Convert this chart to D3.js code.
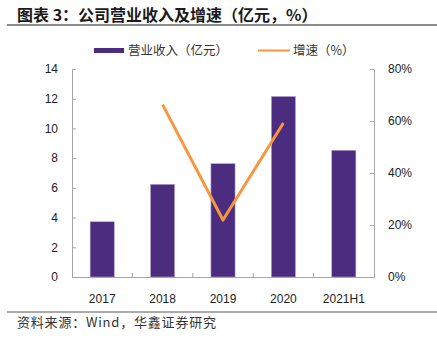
<!DOCTYPE html>
<html>
<head>
<meta charset="utf-8">
<script src="https://cdn.jsdelivr.net/npm/d3@7"></script>
<style>
  html, body { margin: 0; padding: 0; background: #fff; }
  svg { display: block; }
  .axis text { font-family: "Liberation Sans", Arial, sans-serif; font-size: 12px; fill: #222; }
  .axis line, .axis path { stroke: #a6a6a6; }
</style>
</head>
<body>
<svg id="chart" width="437" height="342"></svg>
<script>
// revenue (100m yuan) and growth rate
const categories = ['2017', '2018', '2019', '2020', '2021H1'];
const revenue = [3.72, 6.24, 7.63, 12.15, 8.53];
const growth = [null, 0.663, 0.219, 0.592, null];
const leftTicks = [0, 2, 4, 6, 8, 10, 12, 14];
const rightTicks = [0, 0.2, 0.4, 0.6, 0.8];

const barColor = '#4b2c7f';
const lineColor = '#f7963f';

const margin = {top: 69, right: 63, bottom: 65, left: 72};
const width = 437 - margin.left - margin.right;
const height = 342 - margin.top - margin.bottom;

const svg = d3.select('#chart');

// heading and rules
svg.append('text')
  .attr('x', 17).attr('y', 21)
  .style('font-family', '"Noto Sans CJK SC", sans-serif')
  .style('font-weight', 'bold')
  .style('font-size', '16px')
  .attr('fill', '#1a1a1a')
  .text('图表 3：公司营业收入及增速（亿元，%）');

svg.append('line')
  .attr('x1', 7).attr('x2', 437).attr('y1', 25).attr('y2', 25)
  .attr('stroke', '#8c8c8c').attr('stroke-width', 2);

svg.append('line')
  .attr('x1', 7).attr('x2', 437).attr('y1', 312).attr('y2', 312)
  .attr('stroke', '#8c8c8c').attr('stroke-width', 1.5);

svg.append('text')
  .attr('x', 17).attr('y', 327)
  .style('font-family', '"Noto Sans CJK SC", sans-serif')
  .style('font-size', '13px')
  .style('letter-spacing', '0.8px')
  .attr('fill', '#333')
  .text('资料来源：Wind，华鑫证券研究');

// legend
const legend = svg.append('g')
  .style('font-family', '"Noto Sans CJK SC", sans-serif')
  .style('font-size', '12.5px');

legend.append('rect')
  .attr('x', 94).attr('y', 48).attr('width', 30).attr('height', 5)
  .attr('fill', barColor);
legend.append('text')
  .attr('x', 128).attr('y', 55).attr('fill', '#333')
  .text('营业收入（亿元）');
legend.append('line')
  .attr('x1', 258).attr('x2', 290).attr('y1', 50.5).attr('y2', 50.5)
  .attr('stroke', lineColor).attr('stroke-width', 2);
legend.append('text')
  .attr('x', 293).attr('y', 55).attr('fill', '#333')
  .text('增速（%）');

const g = svg.append('g')
  .attr('transform', 'translate(' + margin.left + ',' + margin.top + ')');

const x = d3.scaleBand()
  .domain(categories)
  .range([0, width])
  .paddingInner(0.6)
  .paddingOuter(0.3);

const y = d3.scaleLinear().domain([0, 14]).range([height, 0]);
const y2 = d3.scaleLinear().domain([0, 0.8]).range([height, 0]);

// bars
g.selectAll('.bar')
  .data(categories)
  .enter().append('rect')
  .attr('class', 'bar')
  .attr('x', d => x(d))
  .attr('width', x.bandwidth())
  .attr('y', (d, i) => y(revenue[i]))
  .attr('height', (d, i) => height - y(revenue[i]))
  .attr('fill', barColor)
  .attr('stroke', '#b7a8d0')
  .attr('stroke-width', 0.6);

// axes
g.append('g')
  .attr('class', 'axis')
  .call(d3.axisLeft(y).tickValues(leftTicks).tickSize(-4).tickSizeOuter(0).tickPadding(14));

g.append('g')
  .attr('class', 'axis')
  .attr('transform', 'translate(' + width + ',0)')
  .call(d3.axisRight(y2).tickValues(rightTicks).tickSize(-4).tickSizeOuter(0).tickPadding(14)
    .tickFormat(d3.format('.0%')));

const xAxis = g.append('g')
  .attr('class', 'axis')
  .attr('transform', 'translate(0,' + height + ')')
  .call(d3.axisBottom(x).tickSize(0).tickPadding(17));

// category separators on the baseline
const step = x.step();
xAxis.selectAll('.sep')
  .data(categories.slice(1))
  .enter().append('line')
  .attr('class', 'sep')
  .attr('x1', d => x(d) - step * 0.3)
  .attr('x2', d => x(d) - step * 0.3)
  .attr('y1', 0).attr('y2', -4);

// growth line
const line = d3.line()
  .defined(d => d.v !== null)
  .x(d => x(d.c) + x.bandwidth() / 2)
  .y(d => y2(d.v));

g.append('path')
  .datum(categories.map((c, i) => ({c: c, v: growth[i]})))
  .attr('fill', 'none')
  .attr('stroke', lineColor)
  .attr('stroke-width', 3)
  .attr('stroke-linejoin', 'round')
  .attr('d', line);
</script>
</body>
</html>
